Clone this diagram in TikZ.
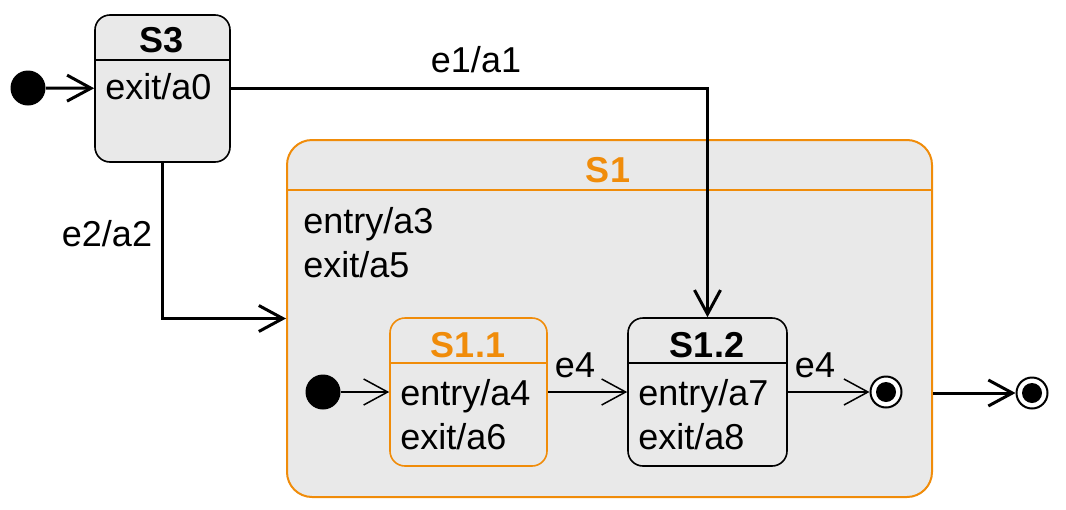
\documentclass[tikz,border=0pt]{standalone}
\usepackage{fontspec}
\setmainfont{Liberation Sans}
\usetikzlibrary{arrows.meta,positioning,calc}
\definecolor{umlgray}{RGB}{233,233,233}
\definecolor{umlorange}{RGB}{240,140,10}

\begin{document}
\begin{tikzpicture}[x=0.5pt,y=-0.5pt,>={Straight Barb[length=12pt,width=13pt]},
statebox/.style={draw,fill=umlgray,rounded corners=7.5pt,line width=0.8pt,inner sep=0pt},
title/.style={font=\bfseries\fontsize{18}{22}\selectfont,anchor=base,inner sep=0pt},
body/.style={font=\fontsize{18}{22}\selectfont,align=left,anchor=north west,inner sep=0pt},
lbl/.style={font=\fontsize{18}{22}\selectfont,anchor=base,inner sep=0pt},
initdot/.style={circle,fill=black,minimum size=17.5pt,inner sep=0pt},
finaldot/.style={circle,draw,fill=white,line width=1pt,minimum size=15.5pt,inner sep=0pt,
path picture={\fill[black] (path picture bounding box.center) circle (5pt);}},
trans/.style={->,line width=0.75pt},
boldtrans/.style={->,line width=1.5pt}]
\useasboundingbox (0,0) rectangle (1066,509);
% outer state S3
\node[statebox,minimum width=67.5pt,minimum height=73.5pt] (S3) at (162.5,88.5) {};
\draw[line width=0.8pt] (95,60) -- (230,60);
\node[title] (S3t) at (162,52) {S3};
\node[body] (S3b) at (105,73) {exit/a0};
\node[initdot] (I0) at (28,88) {};
% composite state S1
\node[statebox,draw=umlorange,line width=1pt,rounded corners=12.5pt,
minimum width=322.5pt,minimum height=178.5pt] (S1) at (609.5,318.5) {};
\draw[umlorange,line width=1pt] (287,190) -- (932,190);
\node[title,text=umlorange] (S1t) at (608,182) {S1};
\node[body] (S1b) at (303,207) {entry/a3\\exit/a5};
% substates
\node[statebox,draw=umlorange,minimum width=78.5pt,minimum height=74pt] (S11) at (468.5,392) {};
\draw[umlorange,line width=0.8pt] (390,363) -- (547,363);
\node[title,text=umlorange] (S11t) at (468,357) {S1.1};
\node[body] (S11b) at (400,379) {entry/a4\\exit/a6};
\node[statebox,minimum width=79.5pt,minimum height=74pt] (S12) at (707.5,392) {};
\draw[line width=0.8pt] (628,363) -- (787,363);
\node[title] (S12t) at (707,357) {S1.2};
\node[body] (S12b) at (638,379) {entry/a7\\exit/a8};
\node[initdot] (I1) at (323,392) {};
\node[finaldot] (F1) at (886,392) {};
\node[finaldot] (F2) at (1032,393) {};
% transitions
\draw[boldtrans] (I0) -- (S3);
\draw[boldtrans] (S3.east |- I0) -| (S12.north);
\node[lbl] (e1) at (476,72) {e1/a1};
\draw[boldtrans] (S3.south) |- (S1.west);
\node[lbl] (e2) at (107,246) {e2/a2};
\draw[trans] (I1) -- (S11.west);
\draw[trans] (S11.east) -- (S12.west);
\node[lbl] (e4a) at (575,377) {e4};
\draw[trans] (S12.east) -- (F1);
\node[lbl] (e4b) at (815,377) {e4};
\draw[boldtrans] (S1.east |- F2) -- (F2);
\end{tikzpicture}
\end{document}
